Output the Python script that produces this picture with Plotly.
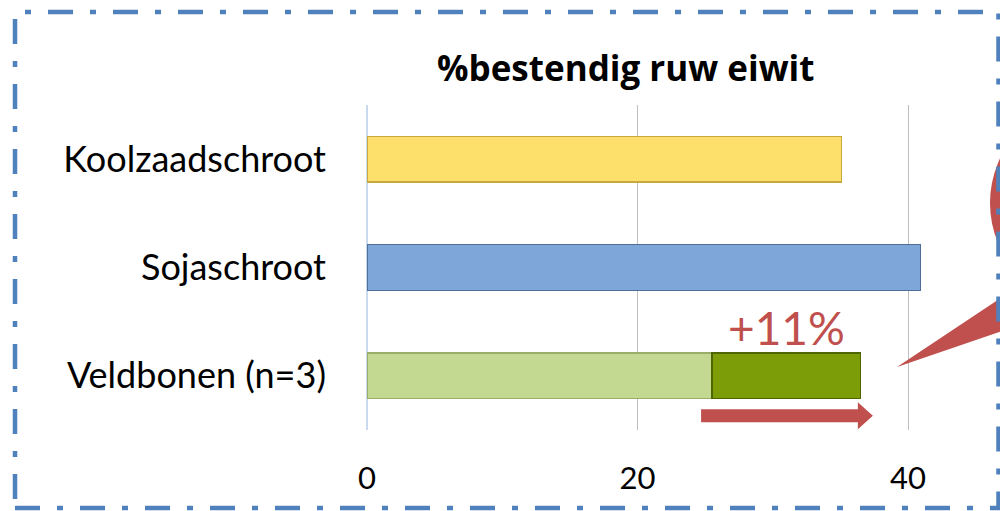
import plotly.graph_objects as go

# Data: % bestendig ruw eiwit (rumen-bypass crude protein)
categories = ["Veldbonen (n=3)", "Sojaschroot", "Koolzaadschroot"]
base_values = [25.5, 40.9, 35.1]
bar_colors = ["#C3D891", "#7FA6D9", "#FDDF6B"]
bar_edges = ["#9AAE6A", "#4F6E98", "#C9A83E"]

increase_category = "Veldbonen (n=3)"
increase_value = 11
increase_color = "#7C9C08"
increase_edge = "#4E6500"

x_ticks = [0, 20, 40]
title_text = "%bestendig ruw eiwit"
accent = "#C0504D"
frame_blue = "#4F81BD"

FONT = "Lato, Calibri, 'Open Sans', sans-serif"
TITLE_FONT = "'Open Sans', Lato, sans-serif"

W, H = 1000, 511
ML, MR, MT, MB = 367, 0, 105, 81
x_max = 46.8
y_pos = list(range(len(categories)))
inc_idx = categories.index(increase_category)
inc_base = base_values[inc_idx]
inc_total = inc_base + increase_value

fig = go.Figure()
fig.add_trace(go.Bar(
    y=y_pos, x=base_values, orientation="h", width=0.42,
    marker=dict(color=bar_colors, line=dict(color=bar_edges, width=1.2)),
    hoverinfo="x+y", showlegend=False,
))
fig.add_trace(go.Bar(
    y=[inc_idx], x=[increase_value], orientation="h", width=0.42,
    marker=dict(color=increase_color, line=dict(color=increase_edge, width=1.2)),
    showlegend=False,
))

# px -> data helpers for decorations
px_per_x = (W - ML - MR) / x_max
px_per_y = (H - MT - MB) / 3.0


def px2x(px):
    return (px - ML) / px_per_x


def py2y(py):
    return (H - MB - py) / px_per_y - 0.5


# increase label above the dark segment
fig.add_annotation(
    x=(inc_base + inc_total) / 2, y=inc_idx, yshift=48,
    text=f"+{increase_value}%", showarrow=False,
    font=dict(family=FONT, size=46, color=accent),
)

# block arrow underneath the bar
ay = inc_idx - 40 / px_per_y
sh = 6.5 / px_per_y
hh = 13.5 / px_per_y
ax0 = inc_base - 0.8
ax1 = inc_total + 0.9
axh = ax1 - 15 / px_per_x
fig.add_shape(
    type="path",
    path=(f"M {ax0},{ay - sh} L {axh},{ay - sh} L {axh},{ay - hh} L {ax1},{ay} "
          f"L {axh},{ay + hh} L {axh},{ay + sh} L {ax0},{ay + sh} Z"),
    fillcolor=accent, line=dict(width=0), layer="above",
)

# callout bubble (mostly beyond the right edge) with its pointer
r = 104
fig.add_shape(
    type="circle", xref="x", yref="y",
    x0=px2x(1094 - r), x1=px2x(1094 + r), y0=py2y(203 + r), y1=py2y(203 - r),
    fillcolor=accent, line=dict(width=0), layer="above",
)
fig.add_shape(
    type="path",
    path=(f"M {px2x(897)},{py2y(367)} L {px2x(1040)},{py2y(272)} "
          f"L {px2x(1040)},{py2y(318)} Z"),
    fillcolor=accent, line=dict(width=0), layer="above",
)

# title
pw, ph = W - ML - MR, H - MT - MB
fig.add_annotation(
    xref="paper", yref="paper",
    x=(625 - ML) / pw, y=(H - MB - 67) / ph,
    text=f"<b>{title_text}</b>", showarrow=False, yanchor="middle",
    font=dict(family=TITLE_FONT, size=35, color="#000000"),
)

# dash-dot frame around the whole chart
fig.add_shape(
    type="rect", xref="paper", yref="paper",
    x0=(15 - ML) / pw, x1=(998.5 - ML) / pw,
    y0=(H - MB - 508) / ph, y1=(H - MB - 12) / ph,
    line=dict(color=frame_blue, width=4.5, dash="25px,17px,6px,17px"),
    fillcolor="rgba(0,0,0,0)", layer="above",
)

fig.update_layout(
    width=W, height=H, barmode="stack", bargap=0.5,
    margin=dict(l=ML, r=MR, t=MT, b=MB, autoexpand=False),
    paper_bgcolor="white", plot_bgcolor="white",
    font=dict(family=FONT, color="#000000"),
    showlegend=False,
)
fig.update_xaxes(
    range=[0, x_max], tickvals=x_ticks, ticktext=[str(v) for v in x_ticks],
    showgrid=True, gridcolor="#BEBEBE", gridwidth=1,
    zeroline=True, zerolinecolor="#C9D9EE", zerolinewidth=1.5,
    showline=False, ticks="", ticklabelstandoff=27, automargin=False,
    tickfont=dict(family=FONT, size=31, color="#000000"),
)
fig.update_yaxes(
    range=[-0.5, 2.5], tickvals=y_pos, ticktext=categories,
    showgrid=False, zeroline=False, showline=False, ticks="",
    ticklabelstandoff=40, automargin=False,
    tickfont=dict(family=FONT, size=36, color="#000000"),
)

fig.write_html("out.html")
